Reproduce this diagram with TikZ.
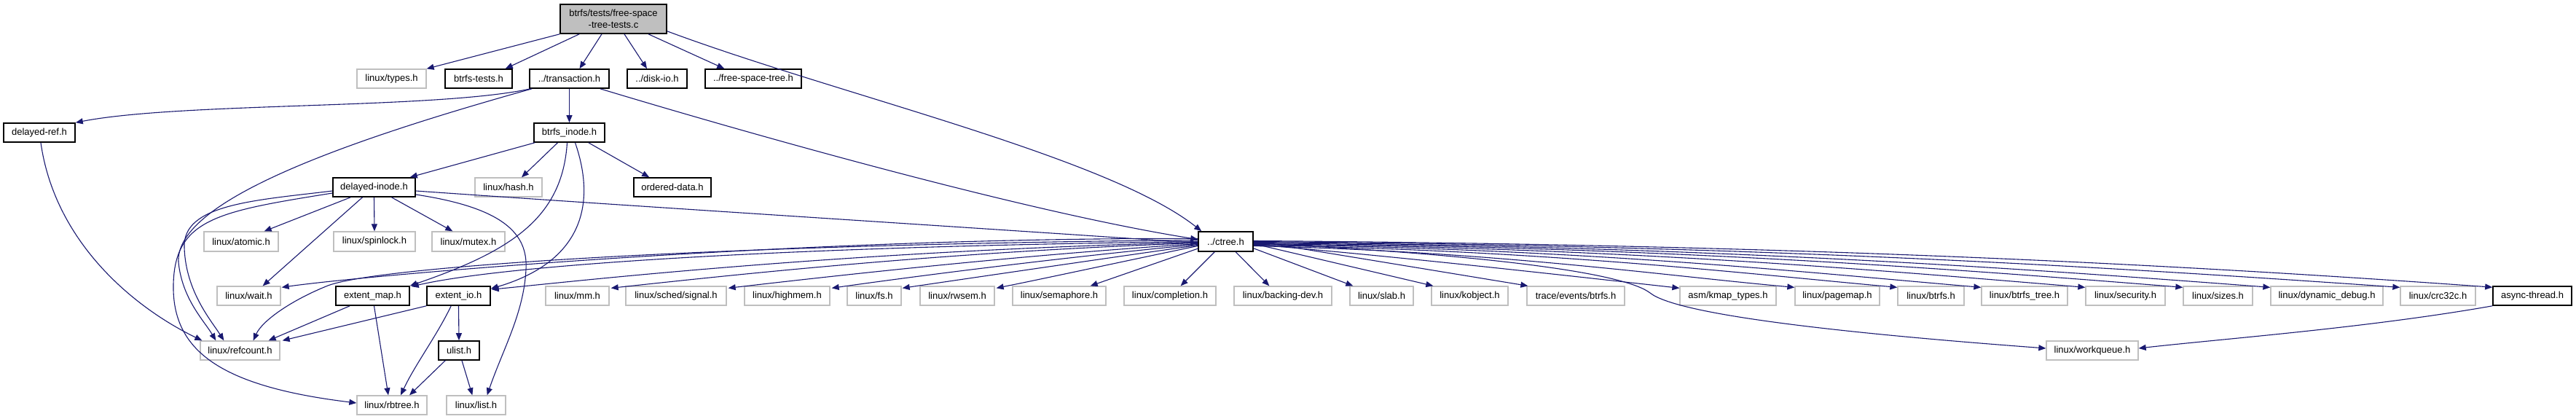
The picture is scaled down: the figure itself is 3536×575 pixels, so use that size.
\documentclass[tikz,border=0pt]{standalone}
\usepackage{fontspec}
\setmainfont{Liberation Sans}
\usetikzlibrary{arrows.meta,calc}
\definecolor{edgec}{HTML}{191970}
\definecolor{grayb}{HTML}{BFBFBF}
\tikzset{
  box/.style={draw, rectangle, inner sep=0pt, font=\fontsize{13}{15.6}\selectfont, text=black, align=center},
  doc/.style={box, draw=black, line width=1.6pt, fill=white},
  ext/.style={box, draw=grayb, line width=1.3pt, fill=white},
  root/.style={box, draw=black, fill=grayb, line width=1.6pt},
  dep/.style={draw=edgec, line width=1.1pt, -{Triangle[length=10pt,width=8pt]}}
}
\newcommand\hnode[7]{\node[#1, minimum width={(#4-#3)*1pt}, minimum height={(#6-#5)*1pt}] (#2) at ({(#3+#4)/2},{(#5+#6)/2}) {#7};}
\begin{document}
\begin{tikzpicture}[x=1pt,y=-1pt]
\fill[white] (0,0) rectangle (3536,575);
\useasboundingbox (0,0) rectangle (3536,575);
% ---- edges first (drawn under nodes)
\begin{scope}[on background layer/.style={}]
\end{scope}
% ---- nodes
\hnode{root}{top}{769}{915}{6}{46}{btrfs/tests/free-space\\-tree-tests.c}
\hnode{ext}{types}{490}{585}{95}{121}{linux/types.h}
\hnode{doc}{btrfstests}{611}{703}{95}{121}{btrfs-tests.h}
\hnode{doc}{transaction}{727}{836}{95}{121}{../transaction.h}
\hnode{doc}{diskio}{861}{943}{95}{121}{../disk-io.h}
\hnode{doc}{fst}{968}{1100}{95}{121}{../free-space-tree.h}
\hnode{doc}{delayedref}{5}{103}{169}{195}{delayed-ref.h}
\hnode{doc}{btrfsinode}{733}{830}{169}{195}{btrfs\_inode.h}
\hnode{doc}{delayedinode}{457}{570}{244}{270}{delayed-inode.h}
\hnode{ext}{hash}{652}{744}{244}{270}{linux/hash.h}
\hnode{doc}{ordered}{870}{976}{244}{270}{ordered-data.h}
\hnode{ext}{atomic}{280}{382}{318}{345}{linux/atomic.h}
\hnode{ext}{spinlock}{458}{570}{318}{345}{linux/spinlock.h}
\hnode{ext}{mutex}{593}{693}{318}{345}{linux/mutex.h}
\hnode{doc}{ctree}{1645}{1720}{318}{345}{../ctree.h}
\hnode{ext}{wait}{298}{385}{393}{419}{linux/wait.h}
\hnode{doc}{extentmap}{461}{562}{393}{419}{extent\_map.h}
\hnode{doc}{extentio}{586}{673}{393}{419}{extent\_io.h}
\hnode{ext}{mm}{749}{836}{393}{419}{linux/mm.h}
\hnode{ext}{signal}{859}{997}{393}{419}{linux/sched/signal.h}
\hnode{ext}{highmem}{1022}{1139}{393}{419}{linux/highmem.h}
\hnode{ext}{fs}{1163}{1237}{393}{419}{linux/fs.h}
\hnode{ext}{rwsem}{1263}{1365}{393}{419}{linux/rwsem.h}
\hnode{ext}{semaphore}{1390}{1518}{393}{419}{linux/semaphore.h}
\hnode{ext}{completion}{1543}{1669}{393}{419}{linux/completion.h}
\hnode{ext}{backingdev}{1694}{1828}{393}{419}{linux/backing-dev.h}
\hnode{ext}{slab}{1853}{1940}{393}{419}{linux/slab.h}
\hnode{ext}{kobject}{1965}{2070}{393}{419}{linux/kobject.h}
\hnode{ext}{trace}{2096}{2230}{393}{419}{trace/events/btrfs.h}
\hnode{ext}{kmap}{2306}{2438}{393}{419}{asm/kmap\_types.h}
\hnode{ext}{pagemap}{2464}{2580}{393}{419}{linux/pagemap.h}
\hnode{ext}{btrfsh}{2605}{2696}{393}{419}{linux/btrfs.h}
\hnode{ext}{btrfstree}{2720}{2838}{393}{419}{linux/btrfs\_tree.h}
\hnode{ext}{security}{2863}{2972}{393}{419}{linux/security.h}
\hnode{ext}{sizes}{2997}{3092}{393}{419}{linux/sizes.h}
\hnode{ext}{dyndebug}{3117}{3271}{393}{419}{linux/dynamic\_debug.h}
\hnode{ext}{crc32c}{3295}{3398}{393}{419}{linux/crc32c.h}
\hnode{doc}{async}{3422}{3530}{393}{419}{async-thread.h}
\hnode{ext}{refcount}{275}{384}{468}{494}{linux/refcount.h}
\hnode{doc}{ulist}{602}{658}{468}{494}{ulist.h}
\hnode{ext}{workqueue}{2809}{2935}{468}{494}{linux/workqueue.h}
\hnode{ext}{rbtree}{490}{586}{543}{569}{linux/rbtree.h}
\hnode{ext}{list}{613}{694}{543}{569}{linux/list.h}
% ---- edges
% root
\draw[dep] (top.south west) -- (types.north east);
\draw[dep] ($(top.south west)+(27,0)$) -- ($(btrfstests.north east)+(-10,0)$);
\draw[dep] ($(top.south)+(-16,0)$) -- ($(transaction.north)+(14,0)$);
\draw[dep] ($(top.south)+(15,0)$) -- ($(diskio.north)+(-14,0)$);
\draw[dep] ($(top.south)+(48,0)$) -- ($(fst.north west)+(27,0)$);
\draw[dep] ($(top.south east)+(0,-4)$) .. controls (1150,130) and (1520,215) .. ($(ctree.north west)+(5,0)$);
% transaction
\draw[dep] ($(transaction.south west)+(2,0)$) .. controls (600,150) and (250,140) .. (delayedref.north east);
\draw[dep] (transaction.south) -- (btrfsinode.north);
\draw[dep] ($(transaction.south west)+(4,0)$) .. controls (450,200) and (240,280) .. (245,360) .. controls (250,410) and (280,440) .. ($(refcount.north west)+(22,0)$);
\draw[dep] ($(transaction.south east)+(-13,0)$) .. controls (1000,175) and (1400,290) .. ($(ctree.west)+(0,-3)$);
% btrfs_inode
\draw[dep] ($(btrfsinode.south west)+(2,0)$) -- ($(delayedinode.north east)+(-8,0)$);
\draw[dep] ($(btrfsinode.south)+(-16,0)$) -- ($(hash.north)+(18,0)$);
\draw[dep] ($(btrfsinode.south east)+(-23,0)$) -- ($(ordered.north west)+(22,0)$);
\draw[dep] ($(btrfsinode.south)+(-3,0)$) .. controls (772,300) and (700,345) .. (extentmap.north east);
\draw[dep] ($(btrfsinode.south)+(8,0)$) .. controls (822,290) and (790,362) .. ($(extentio.north east)+(0,4)$);
% delayed-inode
\draw[dep] ($(delayedinode.south west)+(25,0)$) -- ($(atomic.north east)+(-20,0)$);
\draw[dep] (delayedinode.south) -- (spinlock.north);
\draw[dep] ($(delayedinode.south)+(24,0)$) -- ($(mutex.north west)+(29,0)$);
\draw[dep] ($(delayedinode.south)+(-16,0)$) -- ($(wait.north east)+(-25,0)$);
\draw[dep] ($(delayedinode.west)+(0,5)$) .. controls (350,275) and (250,280) .. (253,340) .. controls (255,400) and (290,440) .. ($(refcount.north west)+(33,0)$);
\draw[dep] ($(delayedinode.west)+(0,8)$) .. controls (300,290) and (240,300) .. (238,390) .. controls (236,480) and (300,530) .. ($(rbtree.west)+(0,-3)$);
\draw[dep] ($(delayedinode.east)+(0,10)$) .. controls (690,285) and (725,320) .. (722,370) .. controls (719,430) and (690,480) .. ($(list.north east)+(-26,0)$);
\draw[dep] ($(delayedinode.east)+(0,5)$) .. controls (900,285) and (1300,310) .. ($(ctree.west)+(0,2)$);
% delayed-ref
\draw[dep] ($(delayedref.south)+(2,0)$) .. controls (75,330) and (180,420) .. ($(refcount.north west)+(3,0)$);
% ctree -> left
\draw[dep] ($(ctree.west)+(0,-4)$) .. controls (1100,325) and (500,378) .. ($(wait.north east)+(1,2)$);
\draw[dep] ($(ctree.west)+(0,-2)$) .. controls (1000,335) and (520,365) .. (450,392) .. controls (400,412) and (360,440) .. ($(refcount.north east)+(-37,0)$);
\draw[dep] (ctree.west) .. controls (1100,338) and (700,362) .. ($(extentmap.north east)+(2,1)$);
\draw[dep] ($(ctree.west)+(0,1)$) .. controls (1150,345) and (800,385) .. ($(extentio.north east)+(1,5)$);
\draw[dep] ($(ctree.west)+(0,2)$) .. controls (1300,345) and (1000,378) .. ($(mm.north east)+(2,3)$);
\draw[dep] ($(ctree.west)+(0,3)$) .. controls (1400,350) and (1150,378) .. ($(signal.north east)+(2,3)$);
\draw[dep] ($(ctree.west)+(0,4)$) .. controls (1450,354) and (1250,380) .. ($(highmem.north east)+(2,3)$);
\draw[dep] ($(ctree.west)+(0,5)$) .. controls (1500,357) and (1330,382) .. ($(fs.north east)+(1,3)$);
\draw[dep] ($(ctree.west)+(0,6)$) .. controls (1550,357) and (1430,383) .. ($(rwsem.north east)+(2,3)$);
\draw[dep] ($(ctree.south west)+(1,-5)$) -- ($(semaphore.north east)+(-22,0)$);
\draw[dep] ($(ctree.south west)+(23,0)$) -- ($(completion.north east)+(-49,0)$);
% ctree -> right
\draw[dep] ($(ctree.south west)+(52,0)$) -- ($(backingdev.north west)+(49,0)$);
\draw[dep] ($(ctree.south east)+(0,-5)$) -- ($(slab.north west)+(5,0)$);
\draw[dep] ($(ctree.east)+(0,3)$) -- ($(kobject.north west)+(3,0)$);
\draw[dep] ($(ctree.east)+(0,-1)$) -- ($(trace.north west)+(2,0)$);
\draw[dep] ($(ctree.east)+(0,4)$) .. controls (1900,350) and (2150,378) .. ($(kmap.north west)+(0,3)$);
\draw[dep] ($(ctree.east)+(0,2)$) .. controls (2050,350) and (2230,375) .. (2265,402) .. controls (2300,430) and (2500,455) .. ($(workqueue.west)+(0,-3)$);
\draw[dep] ($(ctree.east)+(0,6)$) .. controls (2055,345) and (2280,378) .. ($(pagemap.north west)+(0,2)$);
\draw[dep] ($(ctree.east)+(0,5)$) .. controls (2120,343) and (2390,375) .. ($(btrfsh.north west)+(0,2)$);
\draw[dep] ($(ctree.east)+(0,4)$) .. controls (2170,341) and (2470,373) .. ($(btrfstree.north west)+(0,2)$);
\draw[dep] ($(ctree.east)+(0,3)$) .. controls (2230,340) and (2580,371) .. ($(security.north west)+(0,2)$);
\draw[dep] ($(ctree.east)+(0,2)$) .. controls (2290,339) and (2680,369) .. ($(sizes.north west)+(0,2)$);
\draw[dep] ($(ctree.east)+(0,1)$) .. controls (2350,338) and (2770,368) .. ($(dyndebug.north west)+(0,2)$);
\draw[dep] (ctree.east) .. controls (2430,337) and (2900,367) .. ($(crc32c.north west)+(0,2)$);
\draw[dep] ($(ctree.east)+(0,-1)$) .. controls (2490,336) and (3000,364) .. ($(async.north west)+(0,2)$);
% async-thread
\draw[dep] (async.south west) .. controls (3250,450) and (3050,465) .. ($(workqueue.east)+(0,-3)$);
% extent_map
\draw[dep] ($(extentmap.south west)+(20,0)$) -- ($(refcount.north east)+(-16,0)$);
\draw[dep] ($(extentmap.south)+(2,0)$) -- ($(rbtree.north)+(-5,0)$);
% extent_io
\draw[dep] (extentio.south west) -- ($(refcount.north east)+(3,0)$);
\draw[dep] ($(extentio.south west)+(34,0)$) .. controls (600,460) and (570,500) .. ($(rbtree.north)+(12,0)$);
\draw[dep] (extentio.south) -- (ulist.north);
% ulist
\draw[dep] ($(ulist.south west)+(10,0)$) -- ($(rbtree.north)+(24,0)$);
\draw[dep] ($(ulist.south)+(4,0)$) -- ($(list.north west)+(36,0)$);
\end{tikzpicture}
\end{document}
